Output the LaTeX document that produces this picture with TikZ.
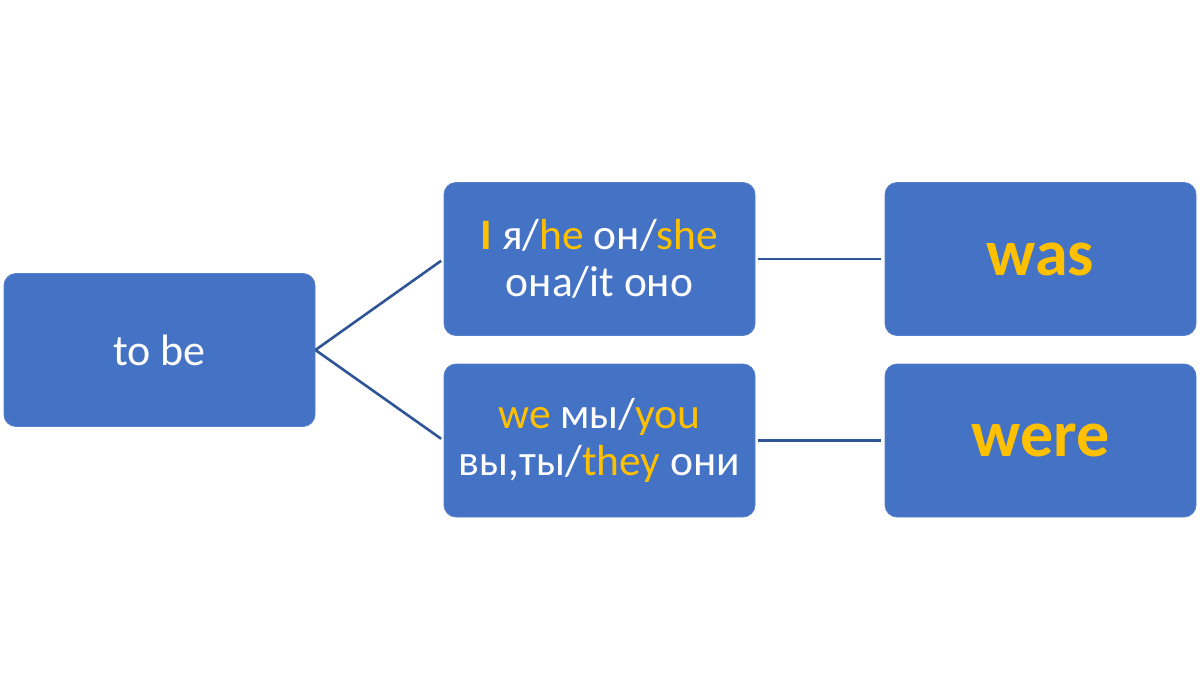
\documentclass[tikz,border=0pt]{standalone}
\usepackage{fontspec}
\setmainfont{Carlito}
\definecolor{boxblue}{HTML}{4472C4}
\definecolor{linkblue}{HTML}{2F5597}
\definecolor{gold}{HTML}{FFC000}
\begin{document}
\begin{tikzpicture}[x=1pt,y=-1pt,
  card/.style={rectangle, rounded corners=12pt, fill=boxblue, draw=boxblue!90!white, line width=0.8pt,
    minimum width=311pt, minimum height=153pt, inner sep=0pt, text=white, align=center},
  midtext/.style={font=\fontsize{43.5}{47}\selectfont},
  bigtext/.style={font=\fontsize{66}{72}\selectfont\bfseries, text=gold},
  link/.style={draw=linkblue, line width=2.6pt}]
\useasboundingbox (0,0) rectangle (1200,699);
\node[card, font=\fontsize{44}{48}\selectfont] (tobe) at (159.5,350) {to be};
\node[card, midtext] (sing) at (599.5,259) {\textcolor{gold}{\textbf{I}} я/\textcolor{gold}{he} он/\textcolor{gold}{she}\\она/it оно};
\node[card, midtext] (plur) at (599.5,440.5) {\textcolor{gold}{we} мы/\textcolor{gold}{you}\\вы,ты/\textcolor{gold}{they} они};
\node[card, bigtext] (was) at (1040.5,259) {was};
\node[card, bigtext] (were) at (1040.5,440.5) {were};
\draw[link, shorten >=3pt] (tobe.east) -- (sing.west);
\draw[link, shorten >=3pt] (tobe.east) -- (plur.west);
\draw[link, shorten >=3.5pt, shorten <=3pt] (sing.east) -- (was.west);
\draw[link, shorten >=3.5pt, shorten <=3pt] (plur.east) -- (were.west);
\end{tikzpicture}
\end{document}
